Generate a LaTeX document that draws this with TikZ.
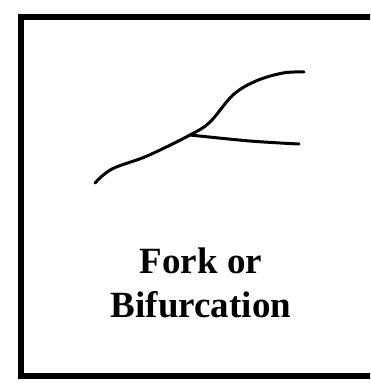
\documentclass[tikz,border=0pt]{standalone}
\usepackage{fontspec}
\setmainfont{Liberation Serif}
\usetikzlibrary{math}

\begin{document}
\begin{tikzpicture}[x=1pt,y=-1pt]
\tikzmath{
\W=370; \H=383;
}
\useasboundingbox (0,0) rectangle (\W,\H);
\clip (0,0) rectangle (\W,\H);

\draw[line width=6] (\W+5,16.5) -- (20.5,16.5) -- (20.5,376) -- (\W+5,376);

\draw[line width=3, line cap=round] plot[smooth, tension=0.6] coordinates {(95,183) (112,169) (147,156) (190,135) (210,122) (233,95) (256,81) (283,73) (304,72)};
\draw[line width=3, line cap=round] plot[smooth, tension=0.6] coordinates {(190,135) (250,141) (299,144)};

\node[font=\bfseries\fontsize{37}{42}\selectfont] (fork) at (201,261) {Fork or};
\node[font=\bfseries\fontsize{37}{42}\selectfont] (bifur) at (201,305) {Bifurcation};

\end{tikzpicture}
\end{document}
